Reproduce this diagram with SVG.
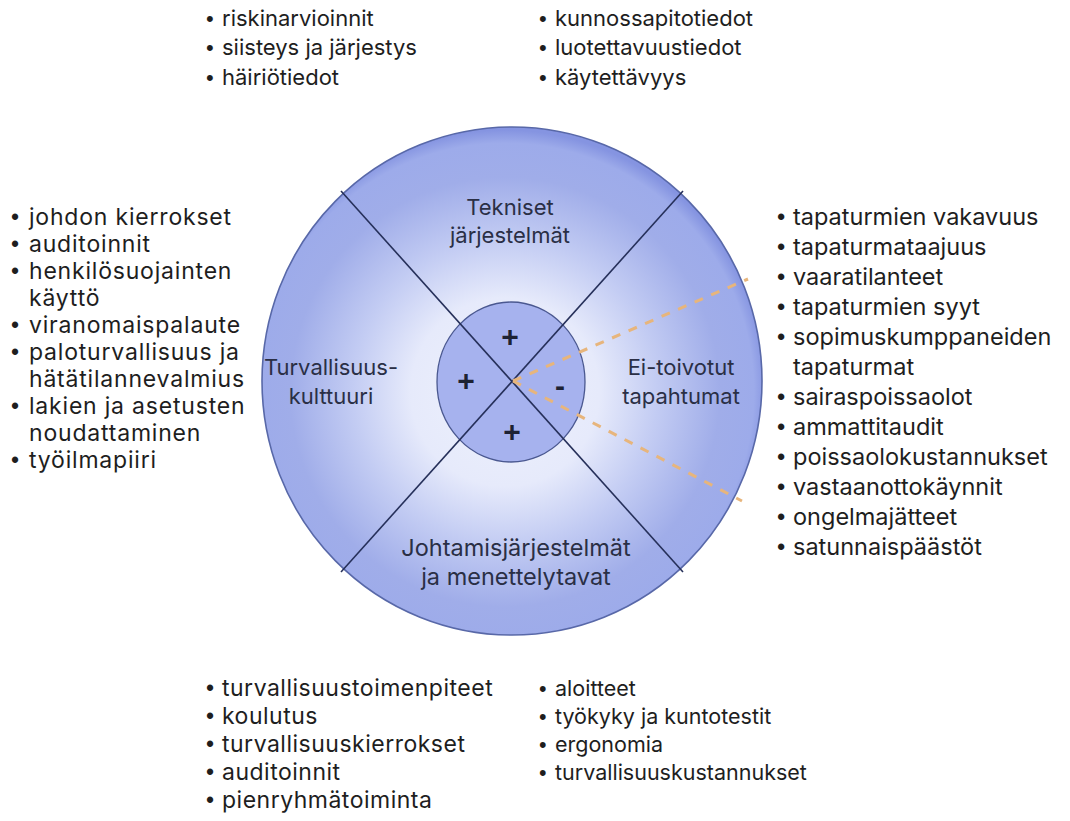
<svg xmlns="http://www.w3.org/2000/svg" width="1070" height="821" viewBox="0 0 1070 821">
<defs>
<radialGradient id="bg" cx="505" cy="392" r="262" gradientUnits="userSpaceOnUse">
<stop offset="0" stop-color="#eef1fc"/>
<stop offset="0.36" stop-color="#e6eafb"/>
<stop offset="0.58" stop-color="#c3ccf3"/>
<stop offset="0.82" stop-color="#a0ade9"/>
<stop offset="0.95" stop-color="#9dabea"/>
<stop offset="1" stop-color="#8594e1"/>
</radialGradient>
<style>
.t{font-family:Inter,"Liberation Sans",sans-serif;fill:#1e1e1e}
.b{font-family:"Liberation Sans",sans-serif}
.s21{font-size:21.5px}
.s22{font-size:22px}
.s23{font-size:23px}
.s24{font-size:23.5px}
.ls1{letter-spacing:0.8px}
.ls05{letter-spacing:0.5px}
.lbl{font-family:Inter,"Liberation Sans",sans-serif;font-size:22px;fill:#2a2f45;text-anchor:middle}
.lbl2{font-size:23.5px}
.sgn{font-family:"Liberation Sans",sans-serif;font-size:30px;font-weight:bold;fill:#1e2233;text-anchor:middle}
.x{stroke:#26305a;stroke-width:1.6;fill:none}
.d{stroke:#e7b57c;stroke-width:3;stroke-dasharray:9 9;fill:none}
</style>
</defs>
<rect width="1070" height="821" fill="#ffffff"/>

<g id="wheel">
<ellipse cx="512" cy="381" rx="250" ry="254" fill="url(#bg)" stroke="#5868a8" stroke-width="1.6"/>
</g>

<g id="center">
<ellipse cx="511" cy="382" rx="74" ry="80" fill="#a6b2ee" stroke="#4a5890" stroke-width="1.3"/>
</g>

<g id="connectors">
<line class="x" x1="341" y1="191" x2="683" y2="572"/>
<line class="x" x1="683" y1="191" x2="341" y2="572"/>
<path class="d" d="M513 381 L748 279"/>
<path class="d" d="M513 381 L742 501"/>
</g>

<g id="signs">
<text class="sgn" x="510" y="347">+</text>
<text class="sgn" x="466" y="391">+</text>
<text class="sgn" x="560" y="396">-</text>
<text class="sgn" x="512" y="442">+</text>
</g>

<g id="label-tekniset">
<text class="lbl" x="510" y="215">Tekniset</text>
<text class="lbl" x="510" y="243">järjestelmät</text>
</g>
<g id="label-turvallisuuskulttuuri">
<text class="lbl" x="331" y="375">Turvallisuus-</text>
<text class="lbl" x="331" y="404">kulttuuri</text>
</g>
<g id="label-eitoivotut">
<text class="lbl" x="681" y="375">Ei-toivotut</text>
<text class="lbl" x="681" y="404">tapahtumat</text>
</g>
<g id="label-johtamis">
<text class="lbl lbl2" x="516" y="556">Johtamisjärjestelmät</text>
<text class="lbl lbl2" x="516" y="585">ja menettelytavat</text>
</g>

<g id="list-top-left" class="t s22">
<text x="206" y="26"><tspan class="b">•</tspan><tspan x="222">riskinarvioinnit</tspan></text>
<text x="206" y="55"><tspan class="b">•</tspan><tspan x="222">siisteys ja järjestys</tspan></text>
<text x="206" y="85"><tspan class="b">•</tspan><tspan x="222">häiriötiedot</tspan></text>
</g>
<g id="list-top-right" class="t s22">
<text x="539" y="26"><tspan class="b">•</tspan><tspan x="555">kunnossapitotiedot</tspan></text>
<text x="539" y="55"><tspan class="b">•</tspan><tspan x="555">luotettavuustiedot</tspan></text>
<text x="539" y="85"><tspan class="b">•</tspan><tspan x="555">käytettävyys</tspan></text>
</g>

<g id="list-left" class="t s23">
<text x="11" y="225"><tspan class="b">•</tspan><tspan x="29" class="ls1">johdon kierrokset</tspan></text>
<text x="11" y="252"><tspan class="b">•</tspan><tspan x="29" class="ls1">auditoinnit</tspan></text>
<text x="11" y="279"><tspan class="b">•</tspan><tspan x="29" class="ls1">henkilösuojainten</tspan></text>
<text x="29" y="306" class="ls1">käyttö</text>
<text x="11" y="333"><tspan class="b">•</tspan><tspan x="29" class="ls1">viranomaispalaute</tspan></text>
<text x="11" y="360"><tspan class="b">•</tspan><tspan x="29" class="ls1">paloturvallisuus ja</tspan></text>
<text x="29" y="387" class="ls1">hätätilannevalmius</text>
<text x="11" y="414"><tspan class="b">•</tspan><tspan x="29" class="ls1">lakien ja asetusten</tspan></text>
<text x="29" y="441" class="ls1">noudattaminen</text>
<text x="11" y="468"><tspan class="b">•</tspan><tspan x="29" class="ls1">työilmapiiri</tspan></text>
</g>

<g id="list-right" class="t s24">
<text x="777" y="225"><tspan class="b">•</tspan><tspan x="793">tapaturmien vakavuus</tspan></text>
<text x="777" y="255"><tspan class="b">•</tspan><tspan x="793">tapaturmataajuus</tspan></text>
<text x="777" y="285"><tspan class="b">•</tspan><tspan x="793">vaaratilanteet</tspan></text>
<text x="777" y="315"><tspan class="b">•</tspan><tspan x="793">tapaturmien syyt</tspan></text>
<text x="777" y="345"><tspan class="b">•</tspan><tspan x="793">sopimuskumppaneiden</tspan></text>
<text x="793" y="375">tapaturmat</text>
<text x="777" y="405"><tspan class="b">•</tspan><tspan x="793">sairaspoissaolot</tspan></text>
<text x="777" y="435"><tspan class="b">•</tspan><tspan x="793">ammattitaudit</tspan></text>
<text x="777" y="465"><tspan class="b">•</tspan><tspan x="793">poissaolokustannukset</tspan></text>
<text x="777" y="495"><tspan class="b">•</tspan><tspan x="793">vastaanottokäynnit</tspan></text>
<text x="777" y="525"><tspan class="b">•</tspan><tspan x="793">ongelmajätteet</tspan></text>
<text x="777" y="555"><tspan class="b">•</tspan><tspan x="793">satunnaispäästöt</tspan></text>
</g>

<g id="list-bottom-left" class="t s23">
<text x="206" y="696"><tspan class="b">•</tspan><tspan x="222" class="ls05">turvallisuustoimenpiteet</tspan></text>
<text x="206" y="724"><tspan class="b">•</tspan><tspan x="222" class="ls05">koulutus</tspan></text>
<text x="206" y="752"><tspan class="b">•</tspan><tspan x="222" class="ls05">turvallisuuskierrokset</tspan></text>
<text x="206" y="780"><tspan class="b">•</tspan><tspan x="222" class="ls05">auditoinnit</tspan></text>
<text x="206" y="808"><tspan class="b">•</tspan><tspan x="222" class="ls05">pienryhmätoiminta</tspan></text>
</g>
<g id="list-bottom-right" class="t s21">
<text x="539" y="696"><tspan class="b">•</tspan><tspan x="555">aloitteet</tspan></text>
<text x="539" y="724"><tspan class="b">•</tspan><tspan x="555">työkyky ja kuntotestit</tspan></text>
<text x="539" y="752"><tspan class="b">•</tspan><tspan x="555">ergonomia</tspan></text>
<text x="539" y="780"><tspan class="b">•</tspan><tspan x="555">turvallisuuskustannukset</tspan></text>
</g>
</svg>
